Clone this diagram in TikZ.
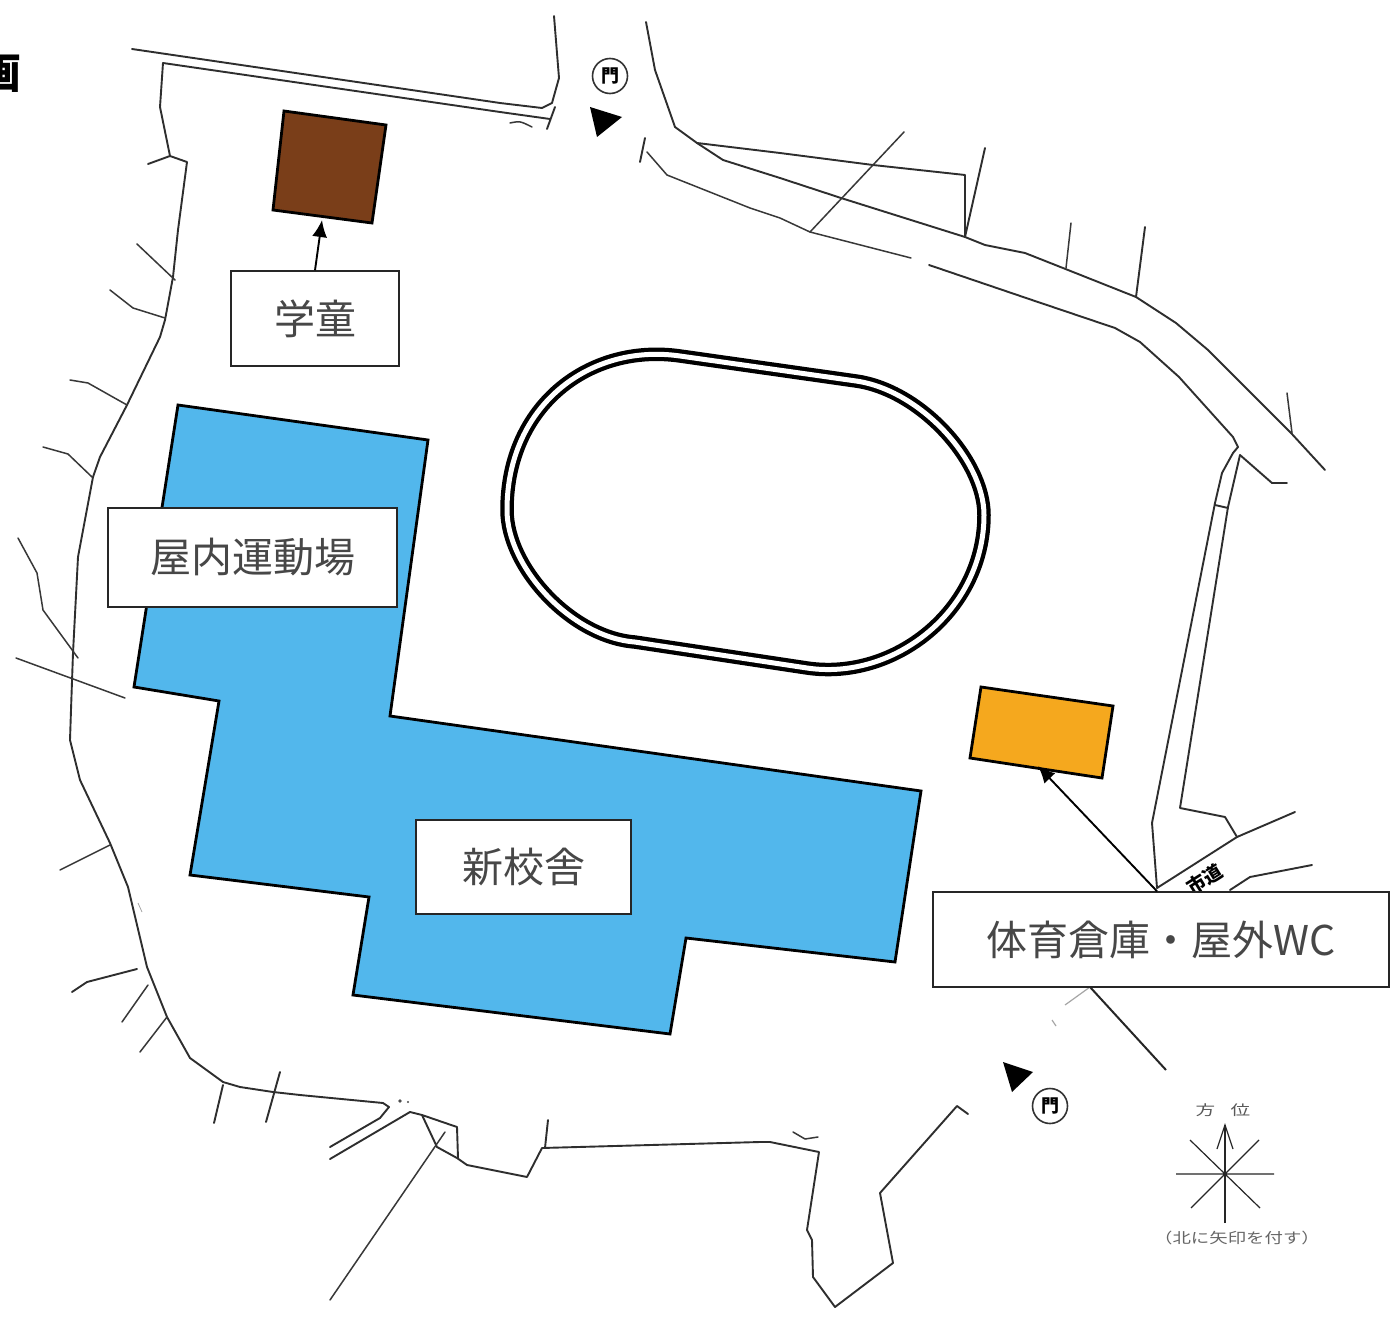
\documentclass[tikz,border=0pt]{standalone}
\usepackage{fontspec}
\setmainfont{Carlito}
\newfontfamily\cjk{Noto Sans CJK JP}
\usetikzlibrary{arrows.meta}
\tikzset{
  road/.style={draw=black!82,line width=1.9pt,line join=round,line cap=round},
  thinroad/.style={draw=black!78,line width=1.5pt,line join=round,line cap=round},
  building/.style={draw=black,line width=2.8pt,line join=miter},
  labelbox/.style={draw=black!85,line width=1.5pt,fill=white,inner sep=0pt,text=black!72,anchor=center},
  pointer/.style={draw=black,line width=1.9pt,-{Latex[length=17pt,width=15pt]}},
  gate/.style={fill=black,draw=none},
  gatering/.style={circle,draw=black!80,line width=1.6pt,minimum size=33pt,inner sep=0pt,fill=white},
  compassline/.style={draw=black!85,line width=1.2pt},
}
\newcommand{\lbl}[1]{\fontsize{41}{48}\selectfont\cjk #1}
\newcommand{\trackpath}{(680,356) -- (856,381) .. controls (920,390) and (984,460) .. (984,515) .. controls (984,610) and (895,681) .. (807,668) -- (634.7,642) .. controls (571,637) and (507,567) .. (507,510) .. controls (507,405) and (590,343) .. (680,356) -- cycle}
\begin{document}
\begin{tikzpicture}[x=1pt,y=-1pt]
\useasboundingbox (0,0) rectangle (1393,1319);
\fill[white] (0,0) rectangle (1393,1319);
% clipped title glyph
\node[inner sep=0pt] (titleglyph) at (1,74) {\fontsize{42}{48}\selectfont\cjk\bfseries 画};
% north-west road
\draw[road] (132,49) -- (500,103) -- (542,108) -- (552,103) -- (559,78) -- (554,16);
\draw[road] (163,63) -- (500,112) -- (550,119);
\draw[road] (555,107) -- (547,129);
\draw[thinroad] (510,123) .. controls (520,121) .. (532,127);
% west boundary
\draw[road] (163,63) -- (160,107) -- (170,156) -- (187,162) -- (178,230) -- (173,277) -- (165,320) -- (160,337) -- (127,405) -- (100,457) -- (93,477) -- (78,557) -- (73,653) -- (71,710) -- (70,740) -- (80,780) -- (110,843) -- (128,887) -- (147,967) -- (167,1017) -- (190,1058) -- (223,1082) -- (240,1087) -- (273,1092) -- (300,1095) -- (383,1103) -- (389,1107) -- (380,1118) -- (330,1147);
\draw[road] (148,164) -- (170,156);
\draw[thinroad] (137,244) -- (175,280);
\draw[thinroad] (110,290) -- (133,308) -- (165,318);
\draw[thinroad] (70,380) -- (88,383) -- (127,405);
\draw[thinroad] (43,447) -- (68,454) -- (92,477);
\draw[thinroad] (18,538) -- (37,573) -- (43,610) -- (78,658);
\draw[thinroad] (16,658) -- (125,698);
\draw[thinroad] (60,870) -- (110,845);
\draw[road] (72,992) -- (87,982) -- (137,969);
\draw[thinroad] (122,1022) -- (148,985);
\draw[thinroad] (140,1052) -- (167,1017);
\draw[road] (223,1085) -- (214,1123);
\draw[road] (280,1072) -- (266,1122);
% south boundary
\draw[road] (330,1159) -- (410,1112) -- (422,1115) -- (457,1127) -- (458,1158);
\draw[road] (422,1115) -- (437,1147) -- (457,1158) -- (467,1165) -- (527,1177) -- (542,1148) -- (760,1142) -- (770,1142) -- (819,1152) -- (807,1230) -- (812,1240) -- (813,1277) -- (835,1307) -- (893,1263) -- (880,1193) -- (957,1106) -- (968,1114);
\draw[road] (548,1120) -- (545,1148);
\draw[thinroad] (445,1132) -- (330,1300);
\draw[thinroad] (793,1132) -- (805,1139) -- (818,1137);
\fill[black!70] (400,1101) circle (1.8pt) (408,1102) circle (1.2pt);
% north-east road
\draw[road] (646,22) -- (655,70) -- (675,127) -- (697,143) -- (723,160) -- (780,178) -- (841,198) -- (965,237) -- (985,245) -- (1025,253) -- (1068,270) -- (1136,297) -- (1176,323) -- (1208,350) -- (1291,433) -- (1325,470);
\draw[road] (697,143) -- (780,153) -- (873,165) -- (965,175) -- (965,237) -- (985,148);
\draw[thinroad] (810,232) -- (904,132);
\draw[thinroad] (1066,268) -- (1071,223);
\draw[road] (1136,297) -- (1145,227);
\draw[thinroad] (1287,393) -- (1292,433);
\draw[road] (645,138) -- (640,162);
\draw[thinroad] (647,152) -- (667,175) -- (750,208) -- (780,218) -- (810,232) -- (911,258);
\draw[road] (929,265) -- (1032,300) -- (1115,328) -- (1140,342) -- (1179,377) -- (1233,437) -- (1238,447) -- (1233,453) -- (1222,473) -- (1215,503) -- (1152,823) -- (1157,888);
\draw[road] (1240,455) -- (1228,507) -- (1180,808) -- (1225,817) -- (1237,837);
\draw[road] (1215,505) -- (1228,508);
\draw[road] (1240,455) -- (1272,483) -- (1287,483);
\draw[road] (1157,888) -- (1237,837) -- (1295,812);
\draw[road] (1230,890) -- (1250,877) -- (1312,865);
\node[rotate=32,inner sep=0pt,text=black] (shido) at (1205,879) {\fontsize{19}{20}\selectfont\cjk\bfseries 市道};
% below label
\draw[draw=black!85,line width=2pt] (1090,987) -- (1166,1070);
\draw[draw=black!35,line width=1.2pt] (1090,987) -- (1065,1005) (1052,1020) -- (1056,1026);
\draw[draw=black!35,line width=.8pt] (138,903) -- (142,912);
% track
\draw[black,line width=13.5pt,line join=round] \trackpath;
\draw[white,line width=5pt,line join=round] \trackpath;
% buildings
\draw[building,fill={rgb,255:red,82;green,183;blue,236}] (178,405) -- (428,440) -- (390,716) -- (921,791) -- (895,962) -- (686,938) -- (670,1034) -- (353,995) -- (369,897) -- (190,875) -- (219,701) -- (134,687) -- cycle;
\draw[building,fill={rgb,255:red,122;green,62;blue,25}] (284,111) -- (386,125) -- (372,223) -- (273,210) -- cycle;
\coordinate (brownfoot) at (322,220);
\draw[building,fill={rgb,255:red,245;green,168;blue,30}] (981,687) -- (1113,706) -- (1102,778) -- (970,758) -- cycle;
\coordinate (orangefoot) at (1038,766);
% gates
\fill[gate] (590,107) -- (622,117) -- (597,137) -- cycle;
\node[gatering,minimum size=35pt] (gate1) at (610,76) {\fontsize{18}{20}\selectfont\cjk\bfseries 門};
\fill[gate] (1003,1062) -- (1033,1072) -- (1012,1092) -- cycle;
\node[gatering,minimum size=35pt] (gate2) at (1050,1106) {\fontsize{18}{20}\selectfont\cjk\bfseries 門};
% labels
\node[labelbox,minimum width=168pt,minimum height=95pt] (gakudo) at (315,318.5) {\lbl{学童}};
\node[labelbox,minimum width=289pt,minimum height=99pt] (okunai) at (252.5,557.5) {\lbl{屋内運動場}};
\node[labelbox,minimum width=215pt,minimum height=94pt] (shinkosha) at (523.5,867) {\lbl{新校舎}};
\node[labelbox,minimum width=456pt,minimum height=95pt] (taiiku) at (1161,939.5) {\lbl{体育倉庫・屋外}\fontsize{41}{48}\selectfont WC};
\draw[pointer] (gakudo.north) -- (brownfoot);
\draw[pointer] ([xshift=-4pt]taiiku.north) -- (orangefoot);
% compass
\node[inner sep=0pt,text=black!65,xscale=1.4] (hoi) at (1223,1110) {\fontsize{14}{16}\selectfont\cjk 方\hspace{11pt}位};
\coordinate (cN) at (1225,1125);
\coordinate (cS) at (1225,1223);
\coordinate (cO) at (1225,1174);
\draw[compassline,line width=1.6pt] (cS) -- (cN);
\draw[compassline] (1176,1174) -- (1274,1174) (1190,1140) -- (1260,1208) (1259,1140) -- (1191,1208);
\draw[compassline] (1217,1149) -- (cN) -- (1233,1149);
\node[inner sep=0pt,text=black!60,xscale=1.27] (kita) at (1237,1238) {\fontsize{14.5}{16}\selectfont\cjk （北に矢印を付す）};
\end{tikzpicture}
\end{document}
